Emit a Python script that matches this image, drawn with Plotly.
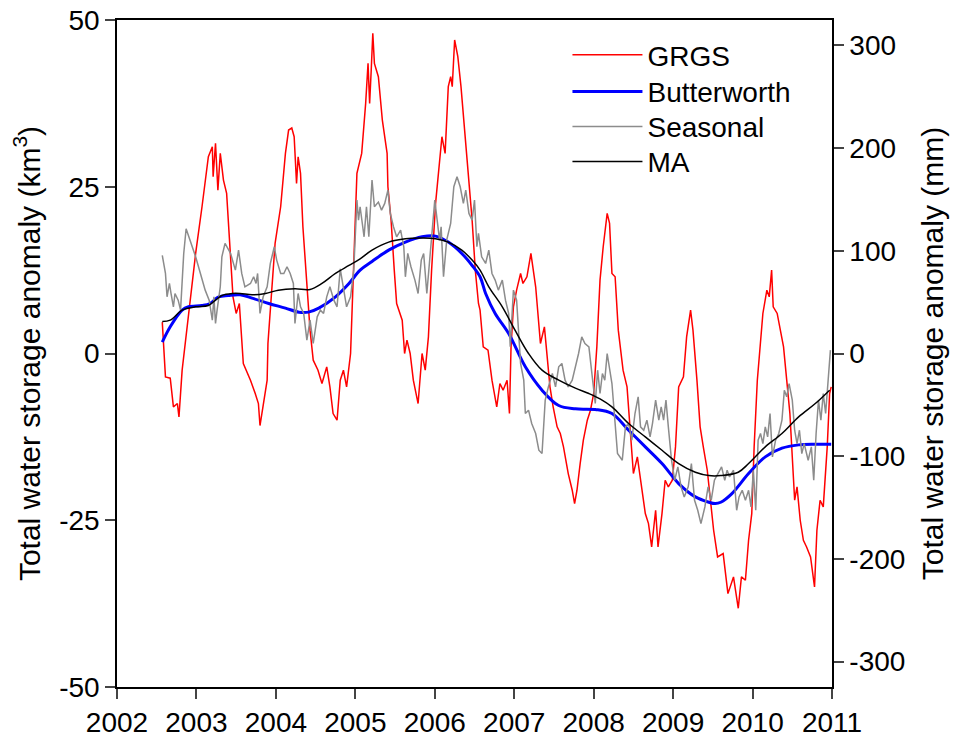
import plotly.graph_objects as go

# ---------------- data ----------------
grgs_year = [2002.57, 2002.61, 2002.67, 2002.71, 2002.76, 2002.78, 2002.82, 2002.90, 2002.99, 2003.07,
             2003.15, 2003.20, 2003.21, 2003.24, 2003.27, 2003.30, 2003.34, 2003.38, 2003.43, 2003.46,
             2003.50, 2003.54, 2003.59, 2003.68, 2003.74, 2003.78, 2003.80, 2003.84, 2003.89, 2003.90,
             2003.95, 2003.99, 2004.06, 2004.12, 2004.16, 2004.20, 2004.23, 2004.26, 2004.28, 2004.31,
             2004.34, 2004.39, 2004.43, 2004.47, 2004.53, 2004.58, 2004.64, 2004.68, 2004.72, 2004.77,
             2004.81, 2004.85, 2004.89, 2004.94, 2004.97, 2005.02, 2005.08, 2005.13, 2005.16, 2005.18,
             2005.20, 2005.22, 2005.24, 2005.29, 2005.34, 2005.40, 2005.41, 2005.45, 2005.49, 2005.52,
             2005.59, 2005.62, 2005.65, 2005.69, 2005.73, 2005.79, 2005.84, 2005.88, 2005.92, 2005.96,
             2006.01, 2006.07, 2006.09, 2006.13, 2006.17, 2006.20, 2006.22, 2006.25, 2006.29, 2006.33,
             2006.38, 2006.42, 2006.47, 2006.51, 2006.55, 2006.57, 2006.61, 2006.67, 2006.72, 2006.78,
             2006.82, 2006.86, 2006.91, 2006.94, 2006.96, 2006.99, 2007.03, 2007.08, 2007.11, 2007.16,
             2007.21, 2007.27, 2007.30, 2007.33, 2007.38, 2007.41, 2007.45, 2007.49, 2007.54, 2007.58,
             2007.62, 2007.68, 2007.73, 2007.76, 2007.79, 2007.83, 2007.87, 2007.92, 2007.96, 2008.00,
             2008.04, 2008.08, 2008.12, 2008.17, 2008.20, 2008.23, 2008.27, 2008.31, 2008.37, 2008.42,
             2008.46, 2008.50, 2008.55, 2008.59, 2008.65, 2008.69, 2008.73, 2008.78, 2008.81, 2008.86,
             2008.90, 2008.94, 2008.99, 2009.03, 2009.07, 2009.13, 2009.17, 2009.22, 2009.25, 2009.30,
             2009.34, 2009.38, 2009.43, 2009.47, 2009.51, 2009.56, 2009.63, 2009.69, 2009.76, 2009.82,
             2009.86, 2009.91, 2009.95, 2009.99, 2010.02, 2010.06, 2010.10, 2010.13, 2010.18, 2010.21,
             2010.24, 2010.26, 2010.31, 2010.35, 2010.39, 2010.43, 2010.47, 2010.53, 2010.56, 2010.60,
             2010.64, 2010.68, 2010.73, 2010.78, 2010.81, 2010.85, 2010.89, 2010.94, 2010.97, 2010.99]
grgs_val = [4.7, -3.5, -3.7, -8.0, -7.5, -9.5, -2.5, 6.0, 15.0, 22.0,
            29.5, 31.0, 26.5, 31.5, 24.5, 30.0, 26.0, 24.0, 15.0, 8.5,
            6.0, 7.5, -1.5, -4.0, -6.0, -7.5, -10.8, -7.5, -4.0, 1.5,
            10.0, 16.5, 22.0, 30.0, 33.5, 33.8, 32.5, 25.5, 29.5, 27.0,
            19.0, 10.0, 3.5, -1.0, -2.5, -4.5, -2.0, -5.0, -9.0, -10.0,
            -4.0, -2.5, -5.0, 0.0, 10.0, 27.0, 30.0, 37.5, 43.5, 37.5,
            42.5, 48.0, 43.5, 41.5, 35.0, 30.0, 25.0, 20.0, 12.5, 7.5,
            5.0, 0.0, 2.0, 0.0, -4.0, -7.5, 0.0, -2.5, 2.5, 12.5,
            22.5, 30.0, 32.5, 30.0, 40.0, 41.5, 40.0, 47.0, 44.5, 40.0,
            32.5, 27.5, 20.0, 12.5, 7.5, 6.5, 1.0, 0.5, -4.0, -8.0,
            -4.5, -5.5, -4.0, -9.0, 1.0, 7.0, 9.5, 12.0, 10.5, 11.5,
            15.0, 10.0, 5.0, 1.5, 4.0, 0.0, -5.0, -8.0, -11.0, -12.0,
            -14.0, -18.0, -20.5, -22.5, -20.5, -16.5, -13.0, -10.0, -8.5, -6.0,
            1.0, 11.0, 16.0, 21.0, 19.5, 12.0, 11.5, 3.5, -2.5, -5.0,
            -11.5, -18.0, -15.5, -19.0, -24.0, -25.5, -29.0, -23.5, -29.0, -24.0,
            -19.0, -20.0, -19.0, -14.0, -5.0, -3.5, 2.5, 6.5, 3.5, -4.0,
            -11.0, -14.0, -17.5, -22.0, -26.5, -30.5, -30.0, -36.0, -33.5, -38.2,
            -33.5, -34.0, -28.0, -24.0, -14.0, -4.0, 2.0, 6.0, 9.5, 8.5,
            12.5, 7.0, 6.0, 3.5, 1.0, -4.0, -9.0, -22.0, -20.0, -25.0,
            -28.0, -29.0, -30.5, -35.0, -26.5, -22.0, -23.0, -14.0, -6.0, -5.0]

butter_year = [2002.57, 2002.67, 2002.82, 2002.90, 2003.07, 2003.17, 2003.28, 2003.40, 2003.55, 2003.70,
               2003.91, 2004.12, 2004.29, 2004.41, 2004.54, 2004.75, 2004.92, 2005.06, 2005.21, 2005.42,
               2005.63, 2005.84, 2006.01, 2006.17, 2006.34, 2006.47, 2006.57, 2006.64, 2006.76, 2006.93,
               2007.14, 2007.35, 2007.56, 2007.77, 2008.02, 2008.23, 2008.44, 2008.65, 2008.86, 2009.07,
               2009.28, 2009.45, 2009.53, 2009.60, 2009.74, 2009.95, 2010.16, 2010.37, 2010.58, 2010.79,
               2010.99]
butter_val = [1.7, 4.0, 6.5, 7.0, 7.2, 7.5, 8.5, 8.7, 8.8, 8.3,
              7.5, 6.8, 6.2, 6.2, 6.8, 8.5, 10.5, 12.5, 13.8, 15.5,
              16.7, 17.5, 17.6, 16.7, 15.0, 13.2, 11.5, 9.0, 6.0, 3.0,
              -2.0, -5.5, -7.8, -8.3, -8.4, -9.0, -11.5, -14.0, -16.5, -19.5,
              -21.5, -22.3, -22.5, -22.3, -21.0, -18.0, -15.5, -14.2, -13.7, -13.6,
              -13.6]

season_year = [2002.57, 2002.61, 2002.63, 2002.66, 2002.68, 2002.71, 2002.73, 2002.77, 2002.80, 2002.82,
               2002.84, 2002.87, 2002.92, 2002.99, 2003.05, 2003.11, 2003.16, 2003.20, 2003.22, 2003.24,
               2003.26, 2003.30, 2003.32, 2003.36, 2003.43, 2003.49, 2003.53, 2003.57, 2003.61, 2003.68,
               2003.72, 2003.75, 2003.77, 2003.80, 2003.84, 2003.89, 2003.93, 2003.98, 2004.01, 2004.06,
               2004.10, 2004.14, 2004.18, 2004.22, 2004.24, 2004.28, 2004.31, 2004.35, 2004.39, 2004.43,
               2004.47, 2004.52, 2004.56, 2004.60, 2004.64, 2004.68, 2004.73, 2004.77, 2004.81, 2004.85,
               2004.89, 2004.94, 2004.98, 2005.02, 2005.04, 2005.06, 2005.11, 2005.14, 2005.17, 2005.21,
               2005.24, 2005.29, 2005.33, 2005.37, 2005.41, 2005.44, 2005.48, 2005.52, 2005.57, 2005.61,
               2005.63, 2005.66, 2005.70, 2005.75, 2005.79, 2005.83, 2005.86, 2005.90, 2005.94, 2006.00,
               2006.03, 2006.06, 2006.08, 2006.11, 2006.15, 2006.20, 2006.24, 2006.28, 2006.32, 2006.36,
               2006.39, 2006.43, 2006.47, 2006.50, 2006.53, 2006.55, 2006.59, 2006.64, 2006.68, 2006.72,
               2006.76, 2006.80, 2006.85, 2006.89, 2006.93, 2006.95, 2006.99, 2007.03, 2007.08, 2007.12,
               2007.14, 2007.18, 2007.22, 2007.27, 2007.31, 2007.35, 2007.39, 2007.43, 2007.48, 2007.52,
               2007.56, 2007.60, 2007.64, 2007.68, 2007.73, 2007.77, 2007.81, 2007.85, 2007.89, 2007.94,
               2007.98, 2008.02, 2008.05, 2008.08, 2008.11, 2008.14, 2008.17, 2008.20, 2008.23, 2008.26,
               2008.30, 2008.36, 2008.40, 2008.44, 2008.48, 2008.52, 2008.56, 2008.59, 2008.63, 2008.67,
               2008.71, 2008.74, 2008.78, 2008.82, 2008.85, 2008.88, 2008.91, 2008.94, 2008.98, 2009.02,
               2009.06, 2009.10, 2009.14, 2009.19, 2009.23, 2009.27, 2009.31, 2009.35, 2009.40, 2009.44,
               2009.48, 2009.52, 2009.57, 2009.61, 2009.65, 2009.68, 2009.71, 2009.76, 2009.80, 2009.83,
               2009.87, 2009.91, 2009.95, 2009.98, 2010.01, 2010.04, 2010.07, 2010.10, 2010.13, 2010.16,
               2010.19, 2010.22, 2010.25, 2010.29, 2010.33, 2010.37, 2010.40, 2010.43, 2010.46, 2010.50,
               2010.53, 2010.56, 2010.59, 2010.62, 2010.65, 2010.70, 2010.74, 2010.77, 2010.80, 2010.83,
               2010.86, 2010.89, 2010.92, 2010.95, 2010.98]
season_val = [14.7, 12.0, 8.5, 10.5, 9.0, 7.0, 9.0, 8.0, 6.5, 11.0,
              15.0, 18.7, 17.0, 14.5, 12.0, 9.5, 8.0, 5.0, 8.5, 4.5,
              6.5, 10.0, 14.5, 16.5, 15.0, 12.5, 15.5, 12.0, 10.0, 10.5,
              11.5, 10.5, 12.0, 6.0, 8.5, 10.0, 13.5, 16.0, 14.0, 12.0,
              12.0, 13.0, 12.0, 10.5, 4.5, 9.0, 7.0, 6.0, 2.0, 5.0,
              1.5, 5.5, 6.5, 6.0, 8.5, 10.0, 8.0, 7.0, 12.7, 10.0,
              7.0, 8.5, 12.5, 23.0, 20.0, 22.0, 17.5, 22.0, 17.5, 26.0,
              22.0, 22.7, 21.5, 22.5, 24.5, 21.0, 19.0, 17.5, 18.5, 16.0,
              11.5, 15.0, 13.0, 11.0, 9.0, 14.0, 15.0, 9.0, 15.0, 23.0,
              20.0, 17.0, 19.0, 11.5, 17.0, 19.5, 25.0, 26.5, 25.0, 22.5,
              24.5, 21.0, 20.0, 23.0, 16.0, 18.0, 14.5, 13.5, 15.5, 12.0,
              11.0, 9.5, 11.0, 8.0, 6.0, 1.0, 9.5, 8.0, -1.5, -4.0,
              -9.0, -8.5, -10.5, -12.0, -14.5, -15.0, -7.0, -5.0, -3.0, -5.0,
              -2.0, -1.5, -4.0, -5.0, -4.0, -2.0, 0.0, 2.5, 1.5, 1.0,
              -3.0, -7.5, -2.5, -6.0, -3.0, -4.0, 0.0, -2.0, -4.5, -9.0,
              -15.0, -16.0, -11.0, -10.5, -13.0, -9.0, -6.5, -11.0, -11.5, -10.0,
              -12.5, -10.5, -7.0, -10.0, -8.0, -10.0, -7.0, -11.0, -16.0, -19.0,
              -17.0, -20.0, -21.5, -20.0, -16.5, -22.0, -23.5, -25.5, -23.0, -20.0,
              -22.0, -19.0, -18.0, -17.0, -19.0, -17.5, -18.5, -17.5, -23.5, -21.5,
              -20.5, -22.0, -20.5, -23.0, -17.5, -23.5, -13.0, -12.0, -13.5, -11.0,
              -12.5, -9.0, -15.5, -13.0, -12.0, -10.0, -5.5, -6.5, -4.5, -7.0,
              -11.5, -13.5, -11.5, -15.0, -13.5, -16.0, -14.0, -19.0, -12.0, -7.0,
              -10.0, -6.0, -9.0, -4.0, 0.5]

ma_year = [2002.57, 2002.67, 2002.82, 2002.99, 2003.15, 2003.24, 2003.32, 2003.45, 2003.55, 2003.70,
           2003.87, 2004.03, 2004.24, 2004.43, 2004.58, 2004.75, 2004.92, 2005.06, 2005.21, 2005.42,
           2005.63, 2005.84, 2006.01, 2006.17, 2006.34, 2006.47, 2006.57, 2006.68, 2006.85, 2007.01,
           2007.18, 2007.35, 2007.56, 2007.77, 2007.94, 2008.08, 2008.23, 2008.44, 2008.65, 2008.86,
           2009.07, 2009.28, 2009.45, 2009.60, 2009.82, 2009.95, 2010.16, 2010.37, 2010.58, 2010.79,
           2010.97]
ma_val = [4.8, 5.0, 6.5, 7.0, 7.2, 8.0, 8.7, 9.0, 9.0, 8.8,
          9.0, 9.5, 9.7, 9.6, 10.5, 12.0, 13.2, 14.2, 15.5, 16.7,
          17.2, 17.3, 17.2, 16.7, 15.5, 14.0, 12.5, 10.0, 7.0, 3.5,
          0.0, -2.5, -4.0, -5.2, -6.0, -6.8, -8.0, -10.5, -12.5, -14.5,
          -16.5, -17.8, -18.3, -18.3, -17.8, -16.5, -14.0, -12.0, -9.5, -7.5,
          -5.5]

year_ticks = list(range(2002, 2012))
km3_ticks = [-50, -25, 0, 25, 50]
km3_labels = ["-50", "-25", "0", "25", "50"]
mm_ticks = [-300, -200, -100, 0, 100, 200, 300]
mm_labels = ["-300", "-200", "-100", "0", "100", "200", "300"]
km3_range = [-50, 50]
mm_per_km3 = 6.495  # right axis scale matches the left one

FONT = "Arial, 'Liberation Sans', sans-serif"

fig = go.Figure()
fig.add_trace(go.Scatter(x=grgs_year, y=grgs_val, mode="lines", name="GRGS", legend="legend",
                         line=dict(color="#ff0000", width=1.5)))
fig.add_trace(go.Scatter(x=butter_year, y=butter_val, mode="lines", name="Butterworth",
                         legend="legend2",
                         line=dict(color="#0000ff", width=3, shape="spline")))
fig.add_trace(go.Scatter(x=season_year, y=season_val, mode="lines", name="Seasonal",
                         legend="legend3", line=dict(color="#8c8c8c", width=1.5)))
fig.add_trace(go.Scatter(x=ma_year, y=ma_val, mode="lines", name="MA", legend="legend4",
                         line=dict(color="#000000", width=1.5, shape="spline")))
# invisible trace to activate right axis
fig.add_trace(go.Scatter(x=[2002, 2011], y=[km3_range[0] * mm_per_km3, km3_range[1] * mm_per_km3],
                         yaxis="y2", mode="lines", line=dict(width=0), showlegend=False,
                         hoverinfo="skip", opacity=0))


def leg(ypos):
    return dict(x=0.630, y=ypos, xanchor="left", yanchor="middle",
                font=dict(size=28), itemwidth=70, bgcolor="rgba(0,0,0,0)")


fig.update_layout(
    width=950, height=736,
    margin=dict(l=109, r=126, t=12, b=57),
    paper_bgcolor="white", plot_bgcolor="white",
    font=dict(family=FONT, size=28, color="black"),
    showlegend=True,
    legend=leg(0.9475),
    legend2=leg(0.8925),
    legend3=leg(0.840),
    legend4=leg(0.7875),
    xaxis=dict(range=[2002, 2011], tickvals=year_ticks, ticks="outside", ticklen=10,
               tickwidth=1.5, showline=True, linewidth=1.5, linecolor="black", mirror=True,
               showgrid=False, zeroline=False, tickfont=dict(size=28), automargin=False,
               ticklabeloverflow="allow"),
    yaxis=dict(range=km3_range, tickvals=km3_ticks, ticktext=km3_labels, ticks="outside",
               ticklen=10, tickwidth=1.5, showline=True, linewidth=1.5, linecolor="black",
               showgrid=False, zeroline=False, tickfont=dict(size=28), automargin=False,
               ticklabeloverflow="allow",
               title=dict(text="Total water storage anomaly (km<sup>3</sup>)",
                          font=dict(size=30), standoff=20)),
    yaxis2=dict(range=[km3_range[0] * mm_per_km3, km3_range[1] * mm_per_km3],
                tickvals=mm_ticks, ticktext=mm_labels, overlaying="y", side="right",
                ticks="outside", ticklen=10, tickwidth=1.5, showline=True, linewidth=1.5,
                linecolor="black", showgrid=False, zeroline=False, tickfont=dict(size=28),
                automargin=False, ticklabeloverflow="allow",
                title=dict(text="Total water storage anomaly (mm)", font=dict(size=30), standoff=18)),
)

fig.write_html("out.html")
